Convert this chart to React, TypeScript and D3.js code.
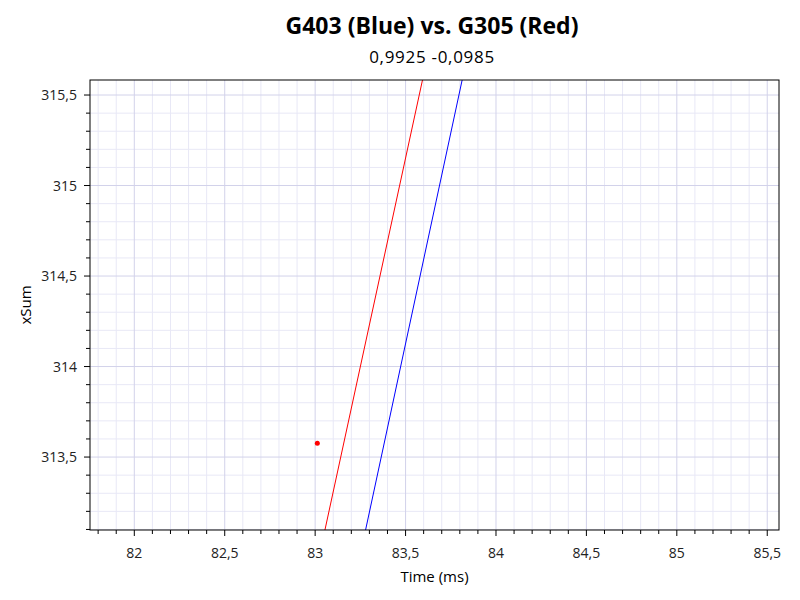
import React from "react";
import * as d3 from "d3";

const title = "G403 (Blue) vs. G305 (Red)";
const subtitle = "0,9925 -0,0985";
const xLabel = "Time (ms)";
const yLabel = "xSum";

const xDomain = [81.755, 85.565];
const yDomain = [313.097, 315.583];
const xMajorTicks = [82, 82.5, 83, 83.5, 84, 84.5, 85, 85.5];
const yMajorTicks = [313.5, 314, 314.5, 315, 315.5];

// series (time, xSum)
const blueTime = [83.258, 83.838];
const blueSum = [313.0, 315.7];
const redTime = [83.033, 83.619];
const redSum = [313.0, 315.7];
const redDotTime = [83.012];
const redDotSum = [313.576];

const W = 800, H = 600;
const M = { left: 90, right: 21, top: 80, bottom: 70 };

const fmt = (v: number) => String(+v.toFixed(2)).replace(".", ",");

export default function App() {
  const x = d3.scaleLinear().domain(xDomain).range([M.left, W - M.right]);
  const y = d3.scaleLinear().domain(yDomain).range([H - M.bottom, M.top]);
  const x0 = M.left, x1 = W - M.right, y0 = M.top, y1 = H - M.bottom;

  const xMinor = d3.range(Math.ceil(xDomain[0] * 10), Math.floor(xDomain[1] * 10) + 1).map(v => v / 10);
  const yMinor = d3.range(Math.ceil(yDomain[0] * 10), Math.floor(yDomain[1] * 10) + 1).map(v => v / 10);
  const isMajor = (v: number) => Math.abs(v * 2 - Math.round(v * 2)) < 1e-6;

  const line = d3.line<[number, number]>().x(d => x(d[0])).y(d => y(d[1]));
  const blue = blueTime.map((t, i) => [t, blueSum[i]] as [number, number]);
  const red = redTime.map((t, i) => [t, redSum[i]] as [number, number]);

  const font = "'Open Sans', 'DejaVu Sans', sans-serif";

  return (
    <svg width={W} height={H} style={{ position: "absolute", left: 0, top: 0, background: "#fff" }} fontFamily={font}>
      <defs>
        <clipPath id="plot">
          <rect x={x0} y={y0} width={x1 - x0} height={y1 - y0} />
        </clipPath>
      </defs>
      <rect x={0} y={0} width={W} height={H} fill="#fff" />
      {/* minor grid */}
      {xMinor.filter(v => !isMajor(v)).map(v => (
        <line key={"xm" + v} x1={x(v)} x2={x(v)} y1={y0} y2={y1} stroke="#e8e8f6" strokeWidth={1} />
      ))}
      {yMinor.filter(v => !isMajor(v)).map(v => (
        <line key={"ym" + v} x1={x0} x2={x1} y1={y(v)} y2={y(v)} stroke="#e8e8f6" strokeWidth={1} />
      ))}
      {/* major grid */}
      {xMajorTicks.map(v => (
        <line key={"xg" + v} x1={x(v)} x2={x(v)} y1={y0} y2={y1} stroke="#d2d2ea" strokeWidth={1} />
      ))}
      {yMajorTicks.map(v => (
        <line key={"yg" + v} x1={x0} x2={x1} y1={y(v)} y2={y(v)} stroke="#d2d2ea" strokeWidth={1} />
      ))}
      {/* data */}
      <g clipPath="url(#plot)">
        <path d={line(red) || ""} fill="none" stroke="#ff0000" strokeWidth={1} />
        <path d={line(blue) || ""} fill="none" stroke="#0000ff" strokeWidth={1} />
        {redDotTime.map((t, i) => (
          <circle key={"d" + i} cx={x(t)} cy={y(redDotSum[i])} r={2.5} fill="#ff0000" />
        ))}
      </g>
      {/* frame */}
      <rect x={x0} y={y0} width={x1 - x0} height={y1 - y0} fill="none" stroke="#000" strokeWidth={1} />
      {/* x ticks */}
      {xMinor.map(v => (
        <line key={"xt" + v} x1={x(v)} x2={x(v)} y1={y1} y2={y1 + (isMajor(v) ? 6 : 4)} stroke="#000" />
      ))}
      {xMajorTicks.map(v => (
        <text key={"xl" + v} x={x(v)} y={558} textAnchor="middle" fontSize={14} fill="#222">{fmt(v)}</text>
      ))}
      {/* y ticks */}
      {yMinor.map(v => (
        <line key={"yt" + v} x1={x0 - (isMajor(v) ? 6 : 4)} x2={x0} y1={y(v)} y2={y(v)} stroke="#000" />
      ))}
      {yMajorTicks.map(v => (
        <text key={"yl" + v} x={77} y={y(v) + 5} textAnchor="end" fontSize={14} fill="#222">{fmt(v)}</text>
      ))}
      {/* labels */}
      <text x={434.5} y={582} textAnchor="middle" fontSize={15} fill="#000">{xLabel}</text>
      <text transform={`translate(31,305) rotate(-90)`} textAnchor="middle" fontSize={15} fill="#000">{yLabel}</text>
      <text x={432} y={34} textAnchor="middle" fontSize={23} fontWeight="bold" fill="#000">{title}</text>
      <text x={432} y={63} textAnchor="middle" fontSize={17} letterSpacing={0.7} fill="#000">{subtitle}</text>
    </svg>
  );
}
